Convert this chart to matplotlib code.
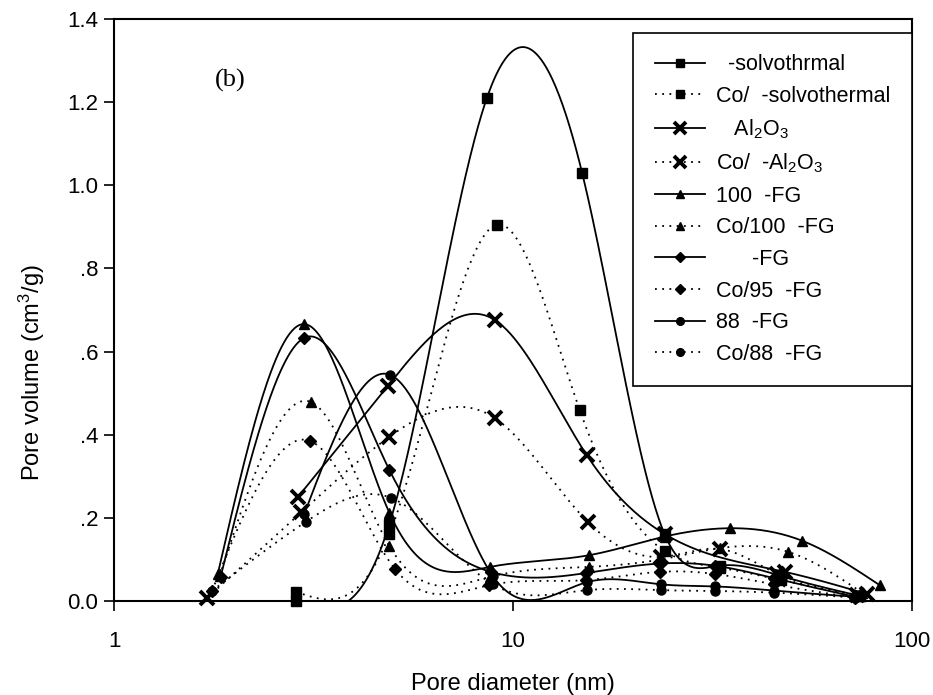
import numpy as np
import matplotlib
matplotlib.use("Agg")
import matplotlib.pyplot as plt
from matplotlib.lines import Line2D

# Pore size distributions (pore diameter in nm, pore volume in cm3/g)
solv_d = [2.86, 4.9, 8.6, 14.9, 24.0, 33.0, 47.0, 74.0]
solv_v = [0.0, 0.185, 1.21, 1.03, 0.16, 0.085, 0.06, 0.012]

co_solv_d = [2.86, 4.9, 9.1, 14.7, 24.0, 33.0, 47.0, 74.0]
co_solv_v = [0.022, 0.16, 0.905, 0.459, 0.12, 0.08, 0.05, 0.012]

al_d = [2.89, 4.85, 9.0, 15.3, 24.0, 48.0, 77.0]
al_v = [0.25, 0.517, 0.676, 0.351, 0.161, 0.07, 0.017]

co_al_d = [1.71, 2.95, 4.9, 9.0, 15.4, 23.5, 33.0, 46.0, 73.0]
co_al_v = [0.007, 0.214, 0.395, 0.44, 0.19, 0.106, 0.125, 0.065, 0.015]

fg100_d = [1.82, 3.0, 4.9, 8.75, 15.5, 24.0, 35.0, 53.0, 83.0]
fg100_v = [0.065, 0.666, 0.212, 0.082, 0.11, 0.155, 0.175, 0.145, 0.038]

co100_d = [1.84, 3.11, 4.9, 8.75, 15.5, 23.5, 33.0, 49.0, 75.0]
co100_v = [0.06, 0.479, 0.132, 0.058, 0.082, 0.1, 0.127, 0.118, 0.02]

fg95_d = [1.85, 3.0, 4.9, 8.8, 15.2, 23.3, 32.0, 45.0, 72.0]
fg95_v = [0.058, 0.633, 0.315, 0.07, 0.067, 0.09, 0.085, 0.055, 0.01]

co95_d = [1.76, 3.1, 5.06, 8.7, 15.2, 23.3, 32.0, 45.0, 72.0]
co95_v = [0.024, 0.385, 0.077, 0.038, 0.05, 0.07, 0.065, 0.04, 0.008]

fg88_d = [3.0, 4.92, 8.9, 15.3, 23.5, 32.0, 45.0, 72.0]
fg88_v = [0.21, 0.544, 0.06, 0.045, 0.04, 0.035, 0.025, 0.01]

co88_d = [1.76, 3.02, 4.95, 8.9, 15.3, 23.5, 32.0, 45.0, 72.0]
co88_v = [0.024, 0.19, 0.248, 0.04, 0.026, 0.026, 0.024, 0.02, 0.008]

labels = [
    "  -solvothrmal",
    "Co/  -solvothermal",
    "   Al$_2$O$_3$",
    "Co/  -Al$_2$O$_3$",
    "100  -FG",
    "Co/100  -FG",
    "      -FG",
    "Co/95  -FG",
    "88  -FG",
    "Co/88  -FG",
]

series = [
    (solv_d, solv_v, "-", "s"),
    (co_solv_d, co_solv_v, ":", "s"),
    (al_d, al_v, "-", "x"),
    (co_al_d, co_al_v, ":", "x"),
    (fg100_d, fg100_v, "-", "^"),
    (co100_d, co100_v, ":", "^"),
    (fg95_d, fg95_v, "-", "D"),
    (co95_d, co95_v, ":", "D"),
    (fg88_d, fg88_v, "-", "o"),
    (co88_d, co88_v, ":", "o"),
]

marker_size = {"s": 7, "x": 10.5, "^": 7.5, "D": 6.5, "o": 6.5}
DOTS = (0, (1, 3))


def natural_spline(x, y, num=500):
    """Natural cubic spline through (x, y), sampled densely."""
    x = np.asarray(x, float)
    y = np.asarray(y, float)
    n = len(x)
    h = np.diff(x)
    A = np.zeros((n, n))
    r = np.zeros(n)
    A[0, 0] = 1.0
    A[-1, -1] = 1.0
    for i in range(1, n - 1):
        A[i, i - 1] = h[i - 1]
        A[i, i] = 2 * (h[i - 1] + h[i])
        A[i, i + 1] = h[i]
        r[i] = 6 * ((y[i + 1] - y[i]) / h[i] - (y[i] - y[i - 1]) / h[i - 1])
    M = np.linalg.solve(A, r)
    xs = np.linspace(x[0], x[-1], num)
    k = np.clip(np.searchsorted(x, xs) - 1, 0, n - 2)
    x0, x1 = x[k], x[k + 1]
    hk = x1 - x0
    a = (x1 - xs) / hk
    b = (xs - x0) / hk
    ys = (a * y[k] + b * y[k + 1]
          + ((a ** 3 - a) * M[k] + (b ** 3 - b) * M[k + 1]) * hk ** 2 / 6)
    return xs, ys


plt.rcParams["font.family"] = ["Liberation Sans", "DejaVu Sans"]
plt.rcParams["mathtext.fontset"] = "custom"
plt.rcParams["mathtext.rm"] = "Liberation Sans"
plt.rcParams["mathtext.it"] = "Liberation Sans:italic"

fig = plt.figure(figsize=(9.33, 6.95), dpi=100)
ax = fig.add_axes([0.1222, 0.1353, 0.8553, 0.8374])

handles = []
for (d, v, ls, mk), lab in zip(series, labels):
    xs, ys = natural_spline(np.log10(d), v)
    style = "-" if ls == "-" else DOTS
    ax.plot(10 ** xs, ys, color="black", lw=1.3, linestyle=style, zorder=2)
    mew = 2.8 if mk == "x" else 1.0
    ax.plot(d, v, linestyle="none", marker=mk, color="black",
            markersize=marker_size[mk], markeredgewidth=mew, zorder=3,
            clip_on=False)
    handles.append(Line2D([], [], color="black", lw=1.3, linestyle=style,
                          marker=mk, markersize=marker_size[mk] * 0.85,
                          markeredgewidth=mew))

ax.set_xscale("log")
ax.set_xlim(1, 100)
ax.set_ylim(0, 1.4)
ax.set_xticks([1, 10, 100])
ax.set_xticklabels(["1", "10", "100"])
ax.xaxis.set_minor_locator(matplotlib.ticker.NullLocator())
yt = [0.0, 0.2, 0.4, 0.6, 0.8, 1.0, 1.2, 1.4]
ax.set_yticks(yt)
ax.set_yticklabels(["0.0", ".2", ".4", ".6", ".8", "1.0", "1.2", "1.4"])
ax.tick_params(axis="both", direction="out", length=7.5, width=1.2,
               labelsize=16, pad=4)
ax.tick_params(axis="x", pad=14)
for sp in ax.spines.values():
    sp.set_linewidth(1.5)

ax.set_xlabel("Pore diameter (nm)", fontsize=17, labelpad=15.5)
ax.set_ylabel("Pore volume (cm$^3$/g)", fontsize=17)
ax.yaxis.set_label_coords(-0.084, 0.393)

ax.text(0.1266, 0.895, "(b)", transform=ax.transAxes, fontsize=19,
        family="Liberation Serif", ha="left", va="center")

leg = ax.legend(handles, labels, loc="upper right",
                bbox_to_anchor=(1.0, 0.976), fontsize=15.5,
                frameon=True, fancybox=False, framealpha=1,
                edgecolor="black", handlelength=2.35, handletextpad=0.5,
                labelspacing=0.49, borderpad=1.0, borderaxespad=0.0)
leg.get_frame().set_linewidth(1.2)

fig.savefig("out.png", dpi=100)
